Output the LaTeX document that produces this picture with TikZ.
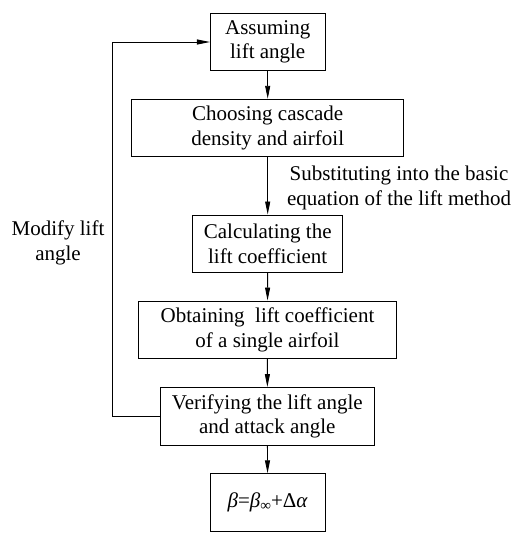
\documentclass[tikz,border=0pt]{standalone}
\usepackage{fontspec}
\setmainfont{Liberation Serif}
\usetikzlibrary{arrows.meta}
\begin{document}
\begin{tikzpicture}[x=1pt,y=-1pt,
  box/.style={draw, line width=0.9pt, minimum height=57.5pt, inner sep=0pt, align=center,
    font=\fontsize{21}{24.5}\selectfont},
  lbl/.style={align=center, inner sep=0pt, font=\fontsize{21}{24.5}\selectfont},
  arr/.style={line width=0.9pt, -{Triangle[length=13pt,width=5pt]}},
  ln/.style={line width=0.9pt}]
\useasboundingbox (0,0) rectangle (521,550);
\node[box, minimum width=114.6pt] (b1) at (267.7,42) {Assuming\\lift angle};
\node[box, minimum width=272.3pt] (b2) at (267.7,128) {Choosing cascade\\density and airfoil};
\node[box, minimum width=150pt] (b3) at (267.7,243.7) {Calculating the\\lift coefficient};
\node[box, minimum width=258.4pt] (b4) at (267.5,329.7) {Obtaining\ \ lift coefficient\\of a single airfoil};
\node[box, minimum width=213.3pt] (b5) at (267.3,416.2) {Verifying the lift angle\\and attack angle};
\node[box, minimum width=115.3pt] (b6) at (267.7,502.5) {\textit{β}=\textit{β}\raisebox{-2.5pt}{\fontsize{15}{15}\selectfont ∞}+Δ\textit{α}};
\node[lbl, anchor=base] (sub) at (399,205) {Substituting into the basic\\equation of the lift method};
\node[lbl, anchor=base] (mod) at (58,260) {Modify lift\\angle};
\coordinate (c1) at (112.3,416.2);
\coordinate (c2) at (112.3,42);
\draw[arr] (b1) -- (b2);
\draw[arr] (b2) -- (b3);
\draw[arr] (b3) -- (b4);
\draw[arr] (b4) -- (b5);
\draw[arr] (b5) -- (b6);
\draw[ln] (b5.west) -- (c1) -- (c2);
\draw[arr] (c2) -- (b1.west);
\end{tikzpicture}
\end{document}
